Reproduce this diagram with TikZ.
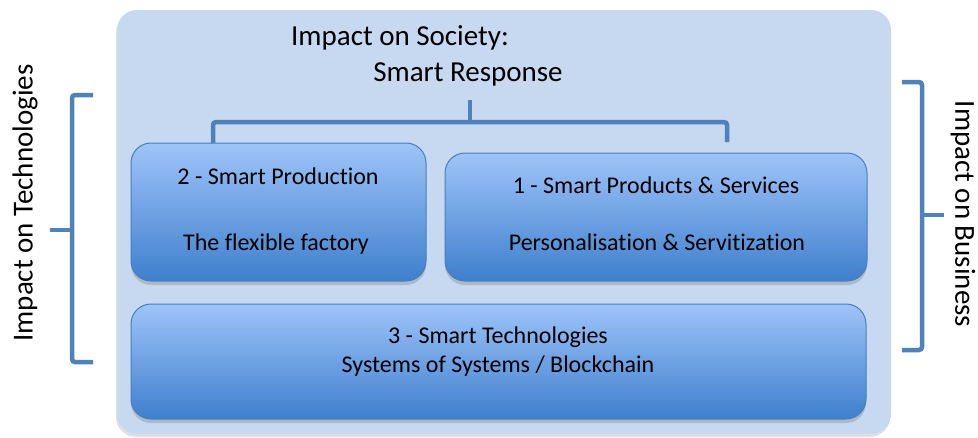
\documentclass[tikz,border=0pt]{standalone}
\usepackage{fontspec}
\setmainfont{Carlito}[Ligatures={NoCommon}]
\usetikzlibrary{shadows}
\definecolor{outerfill}{HTML}{C6D9F0}
\definecolor{boxtop}{HTML}{9EC4F9}
\definecolor{boxmid}{HTML}{8AB5EE}
\definecolor{boxbot}{HTML}{3F7FCD}
\definecolor{boxline}{HTML}{4A7EBB}
\definecolor{bracecol}{HTML}{4F81BD}
\begin{document}
\begin{tikzpicture}[x=1pt,y=-1pt,
  outerbox/.style={fill=outerfill, rounded corners=20pt,
    drop shadow={shadow xshift=-1pt, shadow yshift=-3pt, opacity=0.2, fill=black!60}},
  smartbox/.style={draw=boxline, line width=1pt, rounded corners=20pt,
    top color=boxtop, middle color=boxmid, bottom color=boxbot,
    drop shadow={shadow xshift=0pt, shadow yshift=-4pt, opacity=0.35}},
  boxtext/.style={font=\fontsize{24}{29}\selectfont, anchor=base, inner sep=0pt},
  bigtext/.style={font=\fontsize{29}{34}\selectfont, inner sep=0pt},
  brace/.style={draw=bracecol, line width=4.5pt, rounded corners=3pt}]
\useasboundingbox (0,0) rectangle (978,437);
% outer panel
\path[outerbox] (117,10) rectangle (891,434);
\coordinate (outer) at (504,222);
% boxes
\path[smartbox] (131,143) rectangle (426,281);
\node (box2) at (278.5,212) {};
\path[smartbox] (445,153) rectangle (867,281);
\node (box1) at (656,217) {};
\path[smartbox] (131,304) rectangle (866,419);
\node (box3) at (498.5,361) {};
% texts
\node[bigtext, anchor=base] (soc1) at (400,45) {Impact on Society:};
\node[bigtext, anchor=base] (soc2) at (468,81) {Smart Response};
\node[boxtext] (t2a) at (278,184) {2 - Smart Production};
\node[boxtext] (t2b) at (276,250) {The flexible factory};
\node[boxtext] (t1a) at (656,193) {1 - Smart Products \& Services};
\node[boxtext] (t1b) at (657,250) {Personalisation \& Servitization};
\node[boxtext] (t3a) at (498,343) {3 - Smart Technologies};
\node[boxtext] (t3b) at (498,372) {Systems of Systems / Blockchain};
\node[bigtext, rotate=90] (tech) at (25,203) {Impact on Technologies};
\node[bigtext, rotate=-90] (bus) at (963,214) {Impact on Business};
% braces
\coordinate (tl) at (213,143);
\coordinate (tr) at (727,142);
\coordinate (tm) at (470,100);
\draw[brace] (tl) -- (213,122) -- (470,122) -- (727,122) -- (tr);
\draw[brace, rounded corners=0pt] (470,123) -- (tm);
\coordinate (lt) at (93,95);
\coordinate (lb) at (93,362);
\coordinate (lm) at (50,230);
\draw[brace] (lt) -- (72,95) -- (72,362) -- (lb);
\draw[brace, rounded corners=0pt] (71,230) -- (lm);
\coordinate (rt) at (902,82);
\coordinate (rb) at (902,350);
\coordinate (rm) at (944,215);
\draw[brace] (rt) -- (922,82) -- (922,350) -- (rb);
\draw[brace, rounded corners=0pt] (923,215) -- (rm);
\end{tikzpicture}
\end{document}
